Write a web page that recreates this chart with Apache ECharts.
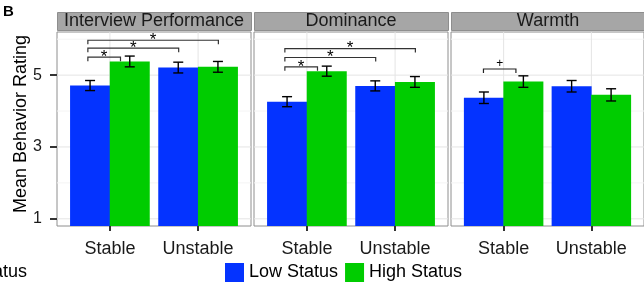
<!DOCTYPE html>
<html>
<head>
<meta charset="utf-8">
<script src="https://cdn.jsdelivr.net/npm/echarts@6/dist/echarts.min.js"></script>
<style>
html, body { margin: 0; padding: 0; background: #fff; }
#main { width: 644px; height: 284px; }
</style>
</head>
<body>
<div id="main"></div>
<script>
// data
var categories = ['Stable', 'Unstable'];
var panels = ['Interview Performance', 'Dominance', 'Warmth'];
var lowMeans = [[4.71, 5.21], [4.26, 4.70], [4.37, 4.69]];
var highMeans = [[5.38, 5.23], [5.11, 4.81], [4.82, 4.45]];
var lowErr = [[0.14, 0.15], [0.14, 0.14], [0.16, 0.16]];
var highErr = [[0.15, 0.15], [0.14, 0.15], [0.16, 0.17]];
var yTicks = [1, 3, 5];
var yMinor = [2, 4, 6];
// significance brackets: [from x, to x, y, mark]
var brackets = [
    [[0.75, 1.12, 5.50, '*'], [0.75, 1.78, 5.75, '*'], [0.75, 2.23, 5.97, '*']],
    [[0.75, 1.12, 5.23, '*'], [0.75, 1.78, 5.49, '*'], [0.75, 2.23, 5.74, '*']],
    [[0.77, 1.14, 5.17, '+']]
];

var FONT = 'Liberation Sans, Arial, sans-serif';
var LOW = '#0433ff', HIGH = '#00cc00';
var xMin = 0.4, xMax = 2.6, yMin = 0.8, yMax = 6.2;
var dodge = 0.225;
var lefts = [57, 254, 451];
var panelW = 194, panelTop = 32, panelH = 194;

var myChart = echarts.init(document.getElementById('main'));

function gridLines(params, api) {
    var horiz = api.value(1) === 0;
    var v = api.value(0);
    var a, b;
    if (horiz) {
        a = api.coord([xMin, v]); b = api.coord([xMax, v]);
    } else {
        a = api.coord([v, yMin]); b = api.coord([v, yMax]);
    }
    var major = api.value(2) === 1;
    return {
        type: 'line',
        shape: { x1: a[0], y1: a[1], x2: b[0], y2: b[1] },
        style: { stroke: major ? '#e4e4e4' : '#f4f4f4', lineWidth: 1 }
    };
}

function errorBar(params, api) {
    var x = api.value(0), m = api.value(1), e = api.value(2);
    var top = api.coord([x, m + e]), bot = api.coord([x, m - e]);
    var w = 5;
    var s = { stroke: '#000', lineWidth: 1.4, fill: null };
    return {
        type: 'group',
        children: [
            { type: 'line', shape: { x1: top[0], y1: top[1], x2: bot[0], y2: bot[1] }, style: s },
            { type: 'line', shape: { x1: top[0] - w, y1: top[1], x2: top[0] + w, y2: top[1] }, style: s },
            { type: 'line', shape: { x1: bot[0] - w, y1: bot[1], x2: bot[0] + w, y2: bot[1] }, style: s }
        ]
    };
}

function bracketRenderer(p) {
    return function (params, api) {
        var b = brackets[p][params.dataIndex];
        var a = api.coord([b[0], b[2]]), c = api.coord([b[1], b[2]]);
        var drop = 4;
        var isStar = b[3] === '*';
        return {
            type: 'group',
            children: [
                {
                    type: 'polyline',
                    shape: { points: [[a[0], a[1] + drop], [a[0], a[1]], [c[0], c[1]], [c[0], c[1] + drop]] },
                    style: { stroke: isStar ? '#333' : '#222', lineWidth: 1.2, fill: null }
                },
                {
                    type: 'text',
                    x: (a[0] + c[0]) / 2,
                    y: isStar ? a[1] : a[1] - 5,
                    style: {
                        text: b[3], fill: '#000', align: 'center', verticalAlign: 'middle',
                        fontFamily: FONT, fontSize: isStar ? 17 : 12
                    }
                }
            ]
        };
    };
}

var grids = [], xAxes = [], yAxes = [], series = [], graphics = [];

panels.forEach(function (name, p) {
    grids.push({
        left: lefts[p], top: panelTop, width: panelW, height: panelH,
        show: true, backgroundColor: '#fff', borderColor: '#8e8e8e', borderWidth: 1
    });
    xAxes.push({
        gridIndex: p, type: 'value', min: xMin, max: xMax,
        splitLine: { show: false }, axisLine: { show: false },
        axisTick: { show: true, customValues: [1, 2], length: 5, lineStyle: { color: '#333', width: 2 } },
        axisLabel: {
            customValues: [1, 2], margin: 14, fontSize: 18, color: '#1a1a1a', fontFamily: FONT,
            formatter: function (v) { return categories[Math.round(v) - 1]; }
        }
    });
    yAxes.push({
        gridIndex: p, type: 'value', min: yMin, max: yMax,
        splitLine: { show: false }, axisLine: { show: false },
        axisTick: { show: p === 0, customValues: yTicks, length: 7, lineStyle: { color: '#333', width: 2 } },
        axisLabel: { show: p === 0, customValues: yTicks, margin: 15, fontSize: 16, color: '#1a1a1a', fontFamily: FONT }
    });

    // background grid lines
    var gl = [];
    yTicks.forEach(function (v) { gl.push([v, 0, 1]); });
    yMinor.forEach(function (v) { gl.push([v, 0, 0]); });
    [1, 2].forEach(function (v) { gl.push([v, 1, 1]); });
    series.push({
        type: 'custom', name: 'grid' + p, xAxisIndex: p, yAxisIndex: p, silent: true, z: 1,
        renderItem: gridLines, data: gl, encode: { x: 0, y: 0 }
    });

    series.push({
        type: 'bar', name: 'Low Status', xAxisIndex: p, yAxisIndex: p, z: 2,
        barWidth: 40, barGap: '-100%', itemStyle: { color: LOW },
        data: lowMeans[p].map(function (v, i) { return [i + 1 - dodge, v]; })
    });
    series.push({
        type: 'bar', name: 'High Status', xAxisIndex: p, yAxisIndex: p, z: 2,
        barWidth: 40, barGap: '-100%', itemStyle: { color: HIGH },
        data: highMeans[p].map(function (v, i) { return [i + 1 + dodge, v]; })
    });

    var eb = [];
    lowMeans[p].forEach(function (v, i) { eb.push([i + 1 - dodge, v, lowErr[p][i]]); });
    highMeans[p].forEach(function (v, i) { eb.push([i + 1 + dodge, v, highErr[p][i]]); });
    series.push({
        type: 'custom', name: 'err' + p, xAxisIndex: p, yAxisIndex: p, silent: true, z: 3,
        renderItem: errorBar, data: eb, encode: { x: 0, y: 1 }
    });

    series.push({
        type: 'custom', name: 'sig' + p, xAxisIndex: p, yAxisIndex: p, silent: true, z: 4,
        renderItem: bracketRenderer(p),
        data: brackets[p].map(function (b) { return [b[0], b[2], b[1]]; }),
        encode: { x: 0, y: 1 }
    });

    // facet strip
    graphics.push({
        type: 'rect', left: lefts[p], top: 12,
        shape: { width: panelW, height: 18 },
        style: { fill: '#a6a6a6', stroke: '#8e8e8e', lineWidth: 1 }
    });
    graphics.push({
        type: 'text', x: lefts[p] + panelW / 2, y: 21.5,
        style: { text: name, fill: '#1a1a1a', fontFamily: FONT, fontSize: 18, align: 'center', verticalAlign: 'middle' }
    });
});

graphics.push({
    type: 'text', x: 3, y: 12,
    style: { text: 'B', fill: '#000', fontFamily: FONT, fontSize: 15, fontWeight: 'bold', verticalAlign: 'middle' }
});
graphics.push({
    type: 'text', x: 21, y: 124, rotation: Math.PI / 2,
    style: { text: 'Mean Behavior Rating', fill: '#000', fontFamily: FONT, fontSize: 18, align: 'center', verticalAlign: 'middle' }
});
graphics.push({
    type: 'text', x: -24, y: 272,
    style: { text: 'Status', fill: '#000', fontFamily: FONT, fontSize: 18, verticalAlign: 'middle' }
});

var option = {
    animation: false,
    backgroundColor: '#fff',
    legend: {
        data: ['Low Status', 'High Status'],
        left: 220, top: 258,
        icon: 'rect', itemWidth: 19, itemHeight: 19, itemGap: 7,
        textStyle: { fontSize: 18, color: '#000', fontFamily: FONT }
    },
    grid: grids,
    xAxis: xAxes,
    yAxis: yAxes,
    series: series,
    graphic: graphics
};

myChart.setOption(option);
</script>
</body>
</html>
